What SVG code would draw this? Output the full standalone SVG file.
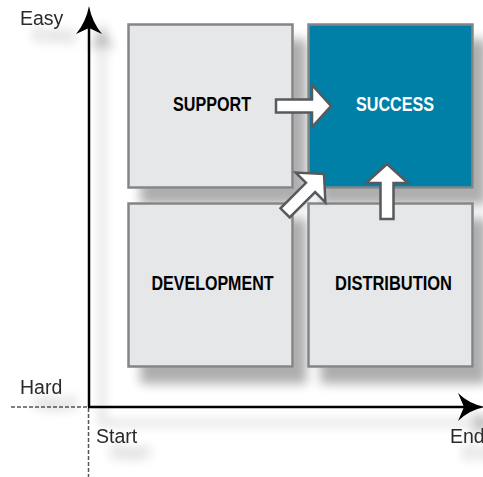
<svg xmlns="http://www.w3.org/2000/svg" width="483" height="477" viewBox="0 0 483 477">
  <defs>
    <filter id="drop" filterUnits="userSpaceOnUse" x="0" y="0" width="483" height="477">
      <feGaussianBlur in="SourceAlpha" stdDeviation="5.5"/>
      <feOffset dx="13" dy="16" result="blur"/>
      <feComponentTransfer>
        <feFuncA type="linear" slope="0.32"/>
      </feComponentTransfer>
      <feMerge>
        <feMergeNode/>
        <feMergeNode in="SourceGraphic"/>
      </feMerge>
    </filter>
    <path id="blockArrow" d="M0,0 L-19,-21 L-19,-6.5 L-55,-6.5 L-55,6.5 L-19,6.5 L-19,21 Z"/>
  </defs>
  <style>
    .box { fill: #e6e7e8; stroke: #838588; stroke-width: 2.5; }
    .box.hot { fill: #0680a6; }
    .label { font-family: "Liberation Sans", Arial, sans-serif; font-weight: bold; font-size: 20px; fill: #000; text-anchor: middle; }
    .label.hot { fill: #ffffff; }
    .axis-text { font-family: "Liberation Sans", Arial, sans-serif; font-size: 19.5px; fill: #2a2a2a; }
    .axis { stroke: #000; stroke-width: 2.5; fill: none; }
    .guide { stroke: #555; stroke-width: 1.5; stroke-dasharray: 4 2; fill: none; }
    .flow { fill: #ffffff; stroke: #58595b; stroke-width: 2.5; stroke-linejoin: miter; }
  </style>

  <!-- base-line guides -->
  <g id="guides">
    <line class="guide" x1="11" y1="407" x2="88" y2="407"/>
    <line class="guide" x1="88.5" y1="408" x2="88.5" y2="477"/>
  </g>

  <g filter="url(#drop)">
    <!-- axes -->
    <g id="axes">
      <line class="axis" x1="89" y1="26" x2="89" y2="407"/>
      <line class="axis" x1="88" y1="407" x2="465" y2="407"/>
      <path d="M89,6 Q92,22 102,34 L89,28 L76,34 Q86,22 89,6 Z" fill="#000"/>
      <path d="M485,407 Q469,410 458,421 L464,407 L458,393 Q469,404 485,407 Z" fill="#000"/>
    </g>

    <!-- axis captions -->
    <g id="captions">
      <text class="axis-text" x="20" y="25">Easy</text>
      <text class="axis-text" x="20" y="394">Hard</text>
      <text class="axis-text" x="96" y="443">Start</text>
      <text class="axis-text" x="450" y="443">End</text>
    </g>

    <!-- quadrant boxes -->
    <g id="support">
      <rect class="box" x="128.5" y="24.5" width="164" height="163"/>
    </g>
    <g id="success">
      <rect class="box hot" x="308.5" y="24.5" width="164" height="163"/>
    </g>
    <g id="development">
      <rect class="box" x="128.5" y="203.5" width="164" height="163"/>
    </g>
    <g id="distribution">
      <rect class="box" x="308.5" y="203.5" width="164" height="163"/>
    </g>
  </g>

  <!-- box labels -->
  <g id="labels">
    <text class="label" x="212" y="111" textLength="78" lengthAdjust="spacingAndGlyphs">SUPPORT</text>
    <text class="label hot" x="395" y="111" textLength="78" lengthAdjust="spacingAndGlyphs">SUCCESS</text>
    <text class="label" x="212.5" y="290" textLength="122" lengthAdjust="spacingAndGlyphs">DEVELOPMENT</text>
    <text class="label" x="393.5" y="290" textLength="117" lengthAdjust="spacingAndGlyphs">DISTRIBUTION</text>
  </g>

  <!-- connectors -->
  <g id="connectors">
    <use href="#blockArrow" class="flow" transform="translate(331,106)"/>
    <use href="#blockArrow" class="flow" transform="translate(387,164) rotate(-90)"/>
    <use href="#blockArrow" class="flow" transform="translate(324,174) rotate(-45)"/>
  </g>
</svg>
